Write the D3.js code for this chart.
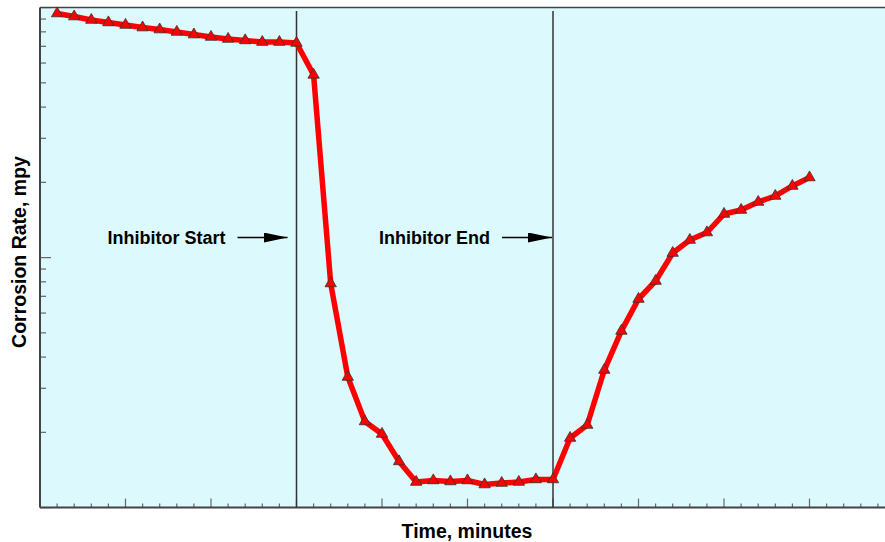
<!DOCTYPE html>
<html><head><meta charset="utf-8">
<script src="https://cdn.jsdelivr.net/npm/d3@7"></script>
<style>html,body{margin:0;padding:0;background:#fff;} svg{display:block;}</style>
</head><body>
<svg id="c" width="885" height="542"></svg>
<script>
// Time index (minor-tick units) and corrosion rate (mpy, log axis)
const times = d3.range(1, 46);
const rates = [94.7, 92.1, 89.2, 87.2, 85.2, 83.2, 81.7, 79.9, 78.0, 76.3, 74.9, 73.9, 72.8, 72.8, 72.2,
  53.8, 7.88, 3.33, 2.21, 1.97, 1.53, 1.266, 1.284, 1.272, 1.284, 1.237, 1.254, 1.266, 1.296, 1.296,
  1.898, 2.14, 3.55, 5.09, 6.83, 8.06, 10.43, 11.76, 12.60, 14.94, 15.50, 16.69, 17.64, 19.34, 20.91];
const eventTimes = [15, 30];
const eventLabels = ["Inhibitor Start", "Inhibitor End"];
const yDomain = [1, 100];
const xDomain = [0, 50];

const svg = d3.select("#c");
const L = 40, R = 895, T = 7.6, B = 507.6;
const x = d3.scaleLinear().domain(xDomain).range([L, R]);
const y = d3.scaleLog().domain(yDomain).range([B, T]);

svg.append("rect").attr("x", L).attr("y", T).attr("width", R - L).attr("height", B - T).attr("fill", "#dcf9fd");

// y ticks (log minor/major), pointing inward
const yTicks = y.ticks();
svg.append("g").selectAll("line").data(yTicks).join("line")
  .attr("x1", L).attr("x2", d => L + (Math.abs(Math.log10(d) - Math.round(Math.log10(d))) < 1e-9 ? 11 : 6))
  .attr("y1", d => y(d)).attr("y2", d => y(d))
  .attr("stroke", "#666").attr("stroke-width", 1.2);

// x ticks
const xTicks = d3.range(0, 51, 1);
svg.append("g").selectAll("line").data(xTicks).join("line")
  .attr("x1", d => x(d)).attr("x2", d => x(d))
  .attr("y1", B).attr("y2", d => B - (d % 5 === 0 ? 9 : 4))
  .attr("stroke", "#666").attr("stroke-width", 1.2);

// frame
svg.append("line").attr("x1", L).attr("x2", R).attr("y1", T).attr("y2", T).attr("stroke", "#444").attr("stroke-width", 1.5);
svg.append("line").attr("x1", L).attr("x2", L).attr("y1", T).attr("y2", B).attr("stroke", "#444").attr("stroke-width", 2);
svg.append("line").attr("x1", L).attr("x2", R).attr("y1", B).attr("y2", B).attr("stroke", "#444").attr("stroke-width", 2);

// event lines
svg.append("g").selectAll("line").data(eventTimes).join("line")
  .attr("x1", d => x(d)).attr("x2", d => x(d))
  .attr("y1", 11).attr("y2", B)
  .attr("stroke", "#333").attr("stroke-width", 1.5);

// annotations
svg.append("defs").append("marker").attr("id", "ah")
  .attr("viewBox", "0 0 24 10").attr("refX", 24).attr("refY", 5)
  .attr("markerWidth", 24).attr("markerHeight", 10).attr("markerUnits", "userSpaceOnUse")
  .attr("orient", "auto")
  .append("path").attr("d", "M0,0 L24,5 L0,10 Z").attr("fill", "#000");

const gaps = [9, 1];
const ann = svg.append("g");
eventTimes.forEach((t, i) => {
  const xe = x(t) - gaps[i];
  ann.append("line").attr("x1", xe - 50).attr("x2", xe).attr("y1", 237.5).attr("y2", 237.5)
    .attr("stroke", "#000").attr("stroke-width", 1.3).attr("marker-end", "url(#ah)");
  ann.append("text").attr("x", xe - 62).attr("y", 237.5).attr("dy", "0.35em")
    .attr("text-anchor", "end").attr("font-family", "Liberation Sans, Arial, sans-serif")
    .attr("font-weight", "bold").attr("font-size", 18).attr("fill", "#000").text(eventLabels[i]);
});

// series
const pts = times.map((t, i) => [t, rates[i]]);
svg.append("path").datum(pts)
  .attr("d", d3.line().x(d => x(d[0])).y(d => y(d[1])))
  .attr("fill", "none").attr("stroke", "#ff0000").attr("stroke-width", 5.5).attr("stroke-linejoin", "round");
svg.append("g").selectAll("path").data(pts).join("path")
  .attr("transform", d => `translate(${x(d[0])},${y(d[1])})`)
  .attr("d", d3.symbol(d3.symbolTriangle, 56))
  .attr("fill", "#ff0000").attr("stroke", "#333").attr("stroke-width", 0.8);

// axis titles
svg.append("text").attr("x", 467).attr("y", 538).attr("text-anchor", "middle")
  .attr("font-family", "Liberation Sans, Arial, sans-serif").attr("font-weight", "bold")
  .attr("font-size", 19.5).attr("fill", "#000").text("Time, minutes");
svg.append("text").attr("transform", "translate(26,252) rotate(-90)").attr("text-anchor", "middle")
  .attr("font-family", "Liberation Sans, Arial, sans-serif").attr("font-weight", "bold")
  .attr("font-size", 19.5).attr("fill", "#000").text("Corrosion Rate, mpy");
</script>
</body></html>
